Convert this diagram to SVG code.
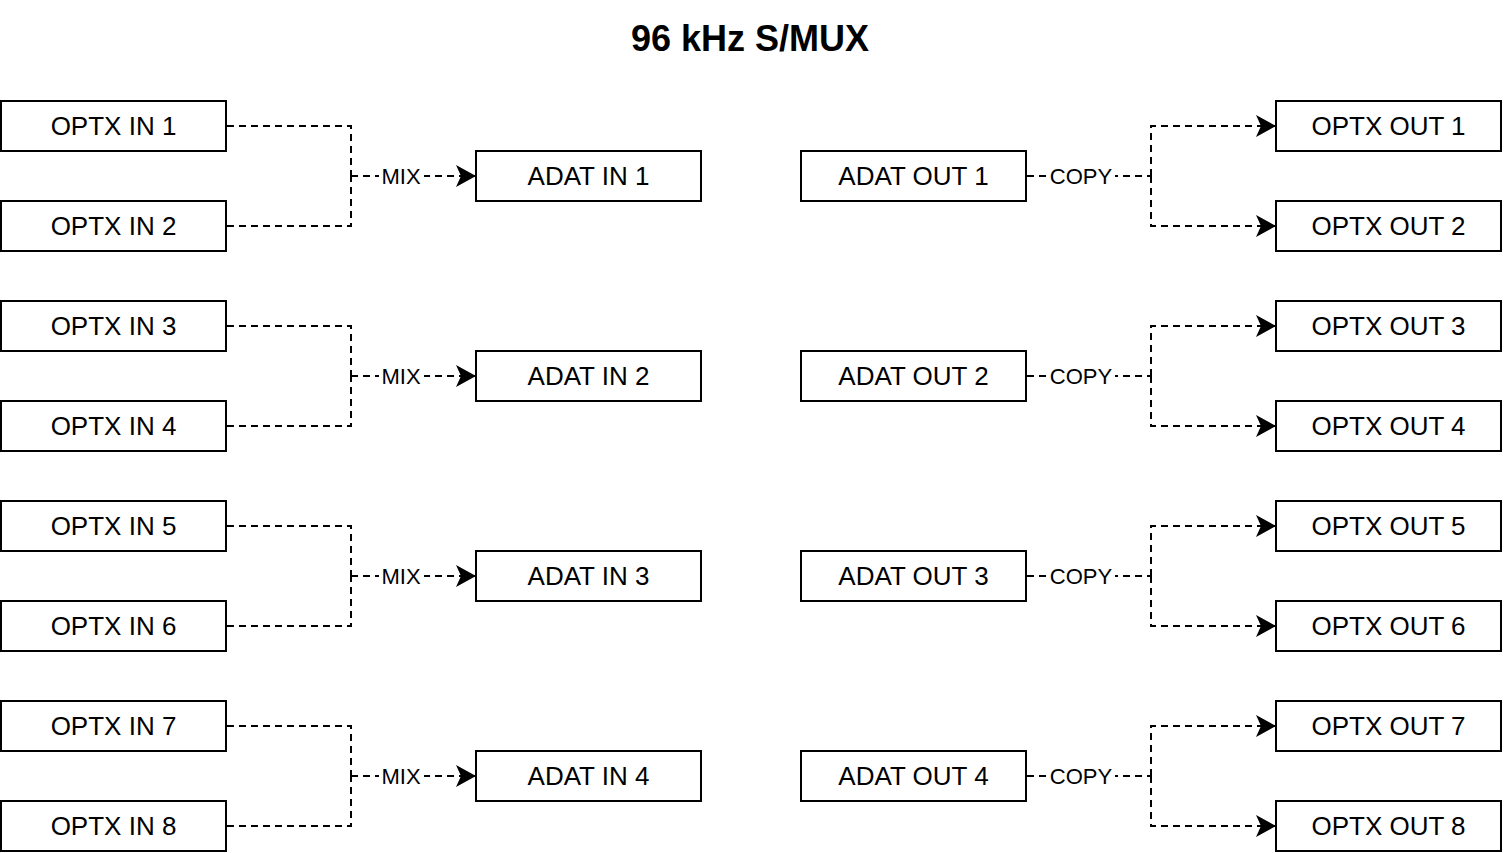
<svg xmlns="http://www.w3.org/2000/svg" width="1505" height="853" viewBox="0 0 1505 853">
<defs>
<marker id="arr" markerUnits="userSpaceOnUse" markerWidth="24" markerHeight="24" viewBox="0 0 24 24" refX="21" refY="12" orient="auto">
<path d="M1,1 L21,12 L1,23 L6,12 Z" fill="#000"/>
</marker>
</defs>
<style>
.box{fill:#fff;stroke:#000;stroke-width:2}
.t{font-family:"Liberation Sans",Arial,sans-serif;font-size:26px;fill:#000;text-anchor:middle;dominant-baseline:central}
.c{fill:none;stroke:#000;stroke-width:2;stroke-dasharray:7 5}
.lb{fill:#fff}
.lt{font-family:"Liberation Sans",Arial,sans-serif;font-size:22px;fill:#000;text-anchor:middle;dominant-baseline:central}
.title{font-family:"Liberation Sans",Arial,sans-serif;font-size:36px;font-weight:bold;fill:#000;text-anchor:middle;dominant-baseline:central}
</style>
<rect width="1505" height="853" fill="#fff"/>
<text class="title" x="750" y="38">96 kHz S/MUX</text>
<g id="connectors">
<path class="c" d="M227,126 H351 V176"/><path class="c" d="M227,226 H351 V176"/><path class="c" d="M351,176 H476" marker-end="url(#arr)"/>
<path class="c" d="M227,326 H351 V376"/><path class="c" d="M227,426 H351 V376"/><path class="c" d="M351,376 H476" marker-end="url(#arr)"/>
<path class="c" d="M227,526 H351 V576"/><path class="c" d="M227,626 H351 V576"/><path class="c" d="M351,576 H476" marker-end="url(#arr)"/>
<path class="c" d="M227,726 H351 V776"/><path class="c" d="M227,826 H351 V776"/><path class="c" d="M351,776 H476" marker-end="url(#arr)"/>
<path class="c" d="M1027,176 H1151"/><path class="c" d="M1151,176 V126 H1276" marker-end="url(#arr)"/><path class="c" d="M1151,176 V226 H1276" marker-end="url(#arr)"/>
<path class="c" d="M1027,376 H1151"/><path class="c" d="M1151,376 V326 H1276" marker-end="url(#arr)"/><path class="c" d="M1151,376 V426 H1276" marker-end="url(#arr)"/>
<path class="c" d="M1027,576 H1151"/><path class="c" d="M1151,576 V526 H1276" marker-end="url(#arr)"/><path class="c" d="M1151,576 V626 H1276" marker-end="url(#arr)"/>
<path class="c" d="M1027,776 H1151"/><path class="c" d="M1151,776 V726 H1276" marker-end="url(#arr)"/><path class="c" d="M1151,776 V826 H1276" marker-end="url(#arr)"/>
<g id="labels">
<rect class="lb" x="379" y="165" width="45" height="22"/><text class="lt" x="401" y="176">MIX</text>
<rect class="lb" x="379" y="365" width="45" height="22"/><text class="lt" x="401" y="376">MIX</text>
<rect class="lb" x="379" y="565" width="45" height="22"/><text class="lt" x="401" y="576">MIX</text>
<rect class="lb" x="379" y="765" width="45" height="22"/><text class="lt" x="401" y="776">MIX</text>
<rect class="lb" x="1047" y="165" width="68" height="22"/><text class="lt" x="1081" y="176">COPY</text>
<rect class="lb" x="1047" y="365" width="68" height="22"/><text class="lt" x="1081" y="376">COPY</text>
<rect class="lb" x="1047" y="565" width="68" height="22"/><text class="lt" x="1081" y="576">COPY</text>
<rect class="lb" x="1047" y="765" width="68" height="22"/><text class="lt" x="1081" y="776">COPY</text>
</g>
</g>
<g id="optx-in-1"><rect class="box" x="1" y="101" width="225" height="50"/><text class="t" x="113.5" y="126">OPTX IN 1</text></g>
<g id="optx-in-2"><rect class="box" x="1" y="201" width="225" height="50"/><text class="t" x="113.5" y="226">OPTX IN 2</text></g>
<g id="optx-in-3"><rect class="box" x="1" y="301" width="225" height="50"/><text class="t" x="113.5" y="326">OPTX IN 3</text></g>
<g id="optx-in-4"><rect class="box" x="1" y="401" width="225" height="50"/><text class="t" x="113.5" y="426">OPTX IN 4</text></g>
<g id="optx-in-5"><rect class="box" x="1" y="501" width="225" height="50"/><text class="t" x="113.5" y="526">OPTX IN 5</text></g>
<g id="optx-in-6"><rect class="box" x="1" y="601" width="225" height="50"/><text class="t" x="113.5" y="626">OPTX IN 6</text></g>
<g id="optx-in-7"><rect class="box" x="1" y="701" width="225" height="50"/><text class="t" x="113.5" y="726">OPTX IN 7</text></g>
<g id="optx-in-8"><rect class="box" x="1" y="801" width="225" height="50"/><text class="t" x="113.5" y="826">OPTX IN 8</text></g>
<g id="adat-in-1"><rect class="box" x="476" y="151" width="225" height="50"/><text class="t" x="588.5" y="176">ADAT IN 1</text></g>
<g id="adat-in-2"><rect class="box" x="476" y="351" width="225" height="50"/><text class="t" x="588.5" y="376">ADAT IN 2</text></g>
<g id="adat-in-3"><rect class="box" x="476" y="551" width="225" height="50"/><text class="t" x="588.5" y="576">ADAT IN 3</text></g>
<g id="adat-in-4"><rect class="box" x="476" y="751" width="225" height="50"/><text class="t" x="588.5" y="776">ADAT IN 4</text></g>
<g id="adat-out-1"><rect class="box" x="801" y="151" width="225" height="50"/><text class="t" x="913.5" y="176">ADAT OUT 1</text></g>
<g id="adat-out-2"><rect class="box" x="801" y="351" width="225" height="50"/><text class="t" x="913.5" y="376">ADAT OUT 2</text></g>
<g id="adat-out-3"><rect class="box" x="801" y="551" width="225" height="50"/><text class="t" x="913.5" y="576">ADAT OUT 3</text></g>
<g id="adat-out-4"><rect class="box" x="801" y="751" width="225" height="50"/><text class="t" x="913.5" y="776">ADAT OUT 4</text></g>
<g id="optx-out-1"><rect class="box" x="1276" y="101" width="225" height="50"/><text class="t" x="1388.5" y="126">OPTX OUT 1</text></g>
<g id="optx-out-2"><rect class="box" x="1276" y="201" width="225" height="50"/><text class="t" x="1388.5" y="226">OPTX OUT 2</text></g>
<g id="optx-out-3"><rect class="box" x="1276" y="301" width="225" height="50"/><text class="t" x="1388.5" y="326">OPTX OUT 3</text></g>
<g id="optx-out-4"><rect class="box" x="1276" y="401" width="225" height="50"/><text class="t" x="1388.5" y="426">OPTX OUT 4</text></g>
<g id="optx-out-5"><rect class="box" x="1276" y="501" width="225" height="50"/><text class="t" x="1388.5" y="526">OPTX OUT 5</text></g>
<g id="optx-out-6"><rect class="box" x="1276" y="601" width="225" height="50"/><text class="t" x="1388.5" y="626">OPTX OUT 6</text></g>
<g id="optx-out-7"><rect class="box" x="1276" y="701" width="225" height="50"/><text class="t" x="1388.5" y="726">OPTX OUT 7</text></g>
<g id="optx-out-8"><rect class="box" x="1276" y="801" width="225" height="50"/><text class="t" x="1388.5" y="826">OPTX OUT 8</text></g>
</svg>
